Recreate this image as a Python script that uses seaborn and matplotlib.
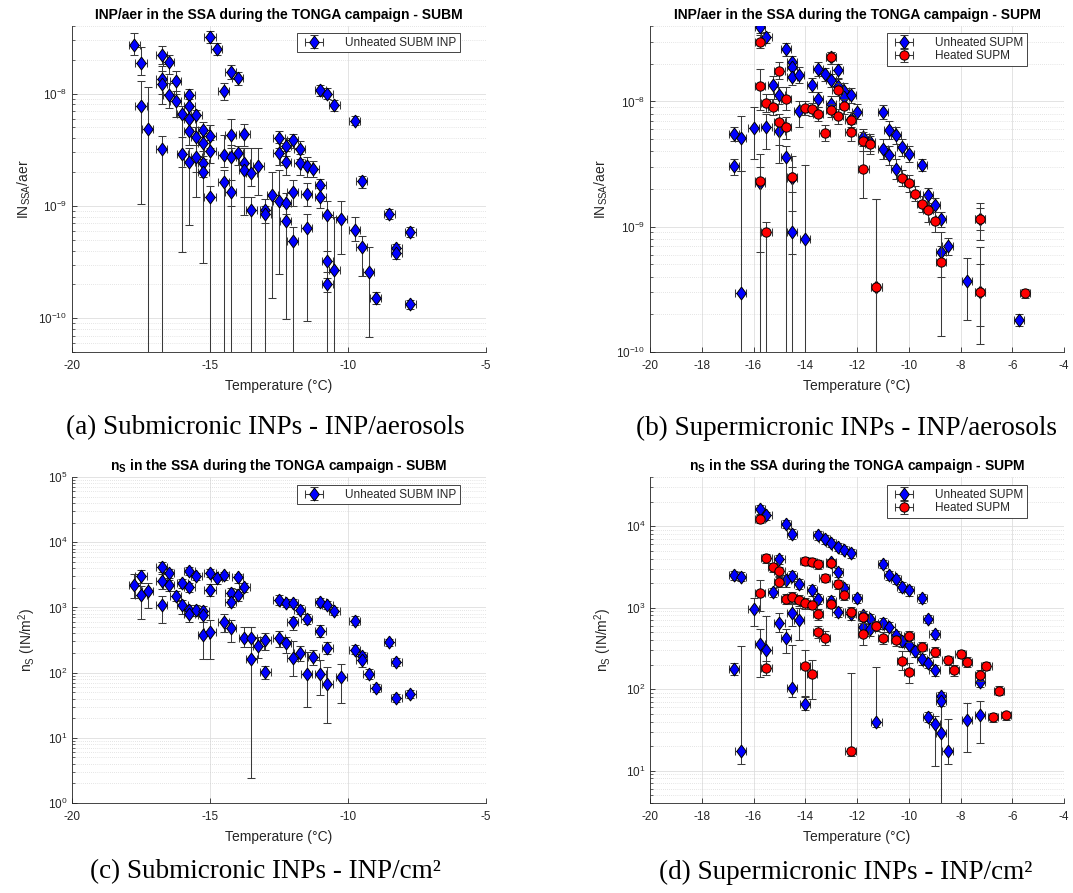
import numpy as np
import pandas as pd
import matplotlib
matplotlib.use("Agg")
import matplotlib.pyplot as plt
from matplotlib.lines import Line2D
from matplotlib.container import ErrorbarContainer
from matplotlib.legend_handler import HandlerTuple, HandlerErrorbar
from matplotlib.ticker import LogLocator, NullFormatter
import seaborn as sns

# ---------------------------------------------------------------- data
# (a) submicronic INP per aerosol, unheated
submAerT = [-17.75, -17.5, -17.5, -17.25, -16.75, -16.75, -16.75, -16.75, -16.5, -16.5,
            -16.25, -16.25, -16.0, -16.0, -15.75, -15.75, -15.75, -15.75, -15.75, -15.5,
            -15.5, -15.5, -15.25, -15.25, -15.25, -15.25, -15.0, -15.0, -15.0, -15.0,
            -14.75, -14.5, -14.5, -14.5, -14.25, -14.25, -14.25, -14.25, -14.0, -14.0,
            -13.75, -13.75, -13.75, -13.5, -13.5, -13.25, -13.0, -13.0, -12.75, -12.5,
            -12.5, -12.5, -12.25, -12.25, -12.25, -12.25, -12.0, -12.0, -12.0, -11.75,
            -11.75, -11.5, -11.5, -11.5, -11.25, -11.0, -11.0, -11.0, -10.75, -10.75,
            -10.75, -10.75, -10.5, -10.5, -10.25, -9.75, -9.75, -9.5, -9.5, -9.25,
            -9.0, -8.5, -8.25, -8.25, -7.75, -7.75]
submAerVal = [2.72e-8, 1.88e-8, 7.8e-9, 4.87e-9, 2.22e-8, 1.36e-8, 1.23e-8, 3.21e-9, 1.91e-8, 9.8e-9,
              1.29e-8, 8.6e-9, 6.65e-9, 2.9e-9, 9.8e-9, 7.7e-9, 6.0e-9, 4.6e-9, 2.46e-9, 6.5e-9,
              4.1e-9, 2.75e-9, 4.7e-9, 3.6e-9, 2.43e-9, 2.0e-9, 3.18e-8, 4.2e-9, 3.1e-9, 1.21e-9,
              2.5e-8, 1.05e-8, 2.84e-9, 1.63e-9, 1.56e-8, 4.3e-9, 2.75e-9, 1.32e-9, 1.38e-8, 2.94e-9,
              4.4e-9, 2.4e-9, 2.1e-9, 1.95e-9, 9.25e-10, 2.28e-9, 9.2e-10, 8.5e-10, 1.26e-9, 4.05e-9,
              2.94e-9, 1.1e-9, 3.43e-9, 2.45e-9, 1.06e-9, 7.3e-10, 3.85e-9, 1.33e-9, 4.9e-10, 3.2e-9,
              2.43e-9, 2.28e-9, 1.27e-9, 6.3e-10, 2.14e-9, 1.08e-8, 1.54e-9, 1.21e-9, 1.0e-8, 8.36e-10,
              3.2e-10, 2.0e-10, 7.9e-9, 2.7e-10, 7.6e-10, 5.7e-9, 6.07e-10, 1.65e-9, 4.3e-10, 2.6e-10,
              1.5e-10, 8.5e-10, 4.2e-10, 3.8e-10, 5.9e-10, 1.33e-10]
submAerLo = [2.2e-8, 1.45e-8, 1.05e-9, 0, 1.85e-8, 1.0e-8, 8.0e-9, 0, 1.5e-8, 7.5e-9,
             1.0e-8, 6.2e-9, 3.9e-10, 2.2e-9, 8.0e-9, 6.0e-9, 4.8e-9, 3.5e-9, 6.7e-10, 5.0e-9,
             1.2e-9, 2.0e-9, 3.8e-9, 2.8e-9, 1.8e-9, 3.1e-10, 2.8e-8, 3.3e-9, 2.4e-9, 0,
             2.2e-8, 8.8e-9, 2.2e-9, 0, 1.35e-8, 3.3e-9, 1.0e-9, 0, 1.2e-8, 2.3e-9,
             3.4e-9, 1.2e-9, 8.3e-10, 1.5e-9, 0, 1.25e-9, 0, 7.0e-10, 1.5e-10, 3.3e-9,
             2.3e-9, 2.45e-10, 2.8e-9, 1.9e-9, 8.5e-10, 9.8e-11, 3.3e-9, 1.0e-9, 0, 2.6e-9,
             1.9e-9, 1.8e-9, 1.0e-9, 9.4e-11, 1.8e-9, 9.5e-9, 1.2e-9, 9.5e-10, 9.0e-9, 0,
             2.6e-10, 1.7e-10, 7.0e-9, 0, 3.7e-10, 5.2e-9, 4.9e-10, 1.45e-9, 2.4e-10, 6.8e-11,
             1.35e-10, 7.7e-10, 3.8e-10, 3.4e-10, 5.3e-10, 1.2e-10]
submAerHi = [3.5e-8, 2.6e-8, 1.3e-8, 1.15e-8, 2.65e-8, 1.75e-8, 1.6e-8, 4.2e-9, 2.2e-8, 1.25e-8,
             1.6e-8, 1.05e-8, 7.8e-9, 4.1e-9, 1.1e-8, 9.0e-9, 7.5e-9, 5.8e-9, 3.3e-9, 7.2e-9,
             5.0e-9, 3.5e-9, 5.6e-9, 4.5e-9, 3.1e-9, 2.6e-9, 3.6e-8, 5.2e-9, 3.9e-9, 1.5e-9,
             2.85e-8, 1.25e-8, 4.3e-9, 2.1e-9, 1.8e-8, 6.0e-9, 3.5e-9, 1.7e-9, 1.55e-8, 3.4e-9,
             5.4e-9, 3.3e-9, 3.3e-9, 3.3e-9, 1.2e-9, 3.3e-9, 1.15e-9, 1.0e-9, 2.0e-9, 4.6e-9,
             3.6e-9, 2.1e-9, 4.0e-9, 3.1e-9, 1.3e-9, 1.0e-9, 4.4e-9, 1.7e-9, 6.5e-10, 3.8e-9,
             2.9e-9, 2.7e-9, 1.6e-9, 8.5e-10, 2.5e-9, 1.2e-8, 1.75e-9, 1.45e-9, 1.12e-8, 1.1e-9,
             4.0e-10, 2.3e-10, 8.8e-9, 8.0e-10, 1.1e-9, 6.3e-9, 7.9e-10, 1.85e-9, 5.4e-10, 4.3e-10,
             1.7e-10, 9.3e-10, 4.6e-10, 4.2e-10, 6.5e-10, 1.45e-10]

# (b) supermicronic INP per aerosol, unheated
supmAerUnhT = [-15.75, -15.5, -14.75, -14.5, -14.5, -14.5, -14.25, -15.25, -15.0, -14.25,
               -16.0, -16.75, -16.5, -16.75, -15.5, -15.0, -14.75, -15.75, -14.5, -14.5,
               -14.0, -16.5, -13.75, -13.5, -13.5, -13.25, -13.0, -13.0, -13.0, -12.75,
               -12.75, -12.5, -12.5, -12.25, -12.25, -12.0, -11.75, -11.5, -11.25, -11.0,
               -11.0, -10.75, -10.75, -10.5, -10.5, -10.25, -10.0, -9.5, -9.25, -9.0,
               -8.75, -8.75, -8.5, -7.75, -7.25, -7.25, -5.75]
supmAerUnhVal = [3.9e-8, 3.25e-8, 2.6e-8, 2.06e-8, 1.87e-8, 1.56e-8, 1.64e-8, 1.36e-8, 1.13e-8, 8.4e-9,
                 6.1e-9, 5.5e-9, 5.1e-9, 3.04e-9, 6.25e-9, 5.8e-9, 3.6e-9, 2.25e-9, 2.45e-9, 9.1e-10,
                 8.0e-10, 2.95e-10, 1.36e-8, 1.82e-8, 1.05e-8, 1.66e-8, 2.25e-8, 1.47e-8, 9.6e-9, 1.77e-8,
                 1.34e-8, 1.22e-8, 1.08e-8, 1.12e-8, 7.2e-9, 8.3e-9, 5.2e-9, 4.75e-9, 3.33e-10, 8.2e-9,
                 4.2e-9, 5.96e-9, 3.72e-9, 5.37e-9, 2.91e-9, 4.34e-9, 3.84e-9, 3.13e-9, 1.8e-9, 1.49e-9,
                 1.15e-9, 6.3e-10, 7.06e-10, 3.7e-10, 3.04e-10, 1.16e-9, 1.79e-10]
supmAerUnhLo = [3.5e-8, 2.9e-8, 2.3e-8, 1.8e-8, 1.6e-8, 1.35e-8, 1.4e-8, 1.15e-8, 9.5e-9, 6.2e-9,
                3.5e-9, 4.8e-9, 2.8e-9, 2.6e-9, 4.2e-9, 3.2e-9, 0, 6.3e-10, 6.1e-10, 0,
                0, 0, 1.2e-8, 1.6e-8, 9.0e-9, 1.45e-8, 2.0e-8, 1.3e-8, 8.5e-9, 1.55e-8,
                1.2e-8, 1.05e-8, 9.5e-9, 9.8e-9, 6.3e-9, 7.2e-9, 4.4e-9, 4.0e-9, 0, 7.2e-9,
                3.5e-9, 5.0e-9, 3.1e-9, 4.6e-9, 2.4e-9, 3.7e-9, 3.3e-9, 2.8e-9, 1.55e-9, 1.3e-9,
                1.0e-9, 4.0e-10, 6.0e-10, 1.8e-10, 1.6e-10, 9.5e-10, 1.6e-10]
supmAerUnhHi = [4.3e-8, 3.6e-8, 2.9e-8, 2.3e-8, 2.1e-8, 1.8e-8, 1.9e-8, 1.6e-8, 1.3e-8, 1.0e-8,
                9.0e-9, 6.2e-9, 7.6e-9, 3.5e-9, 8.0e-9, 7.0e-9, 4.4e-9, 3.8e-9, 3.0e-9, 1.33e-9,
                3.1e-9, 2.8e-9, 1.55e-8, 2.05e-8, 1.2e-8, 1.85e-8, 2.5e-8, 1.65e-8, 1.1e-8, 2.0e-8,
                1.5e-8, 1.4e-8, 1.2e-8, 1.28e-8, 8.2e-9, 9.5e-9, 6.0e-9, 5.5e-9, 1.65e-9, 9.3e-9,
                5.0e-9, 7.0e-9, 4.4e-9, 6.2e-9, 3.5e-9, 5.0e-9, 4.4e-9, 3.5e-9, 2.05e-9, 1.7e-9,
                1.3e-9, 9.0e-10, 8.2e-10, 5.6e-10, 5.0e-10, 1.4e-9, 2.0e-10]

# (b) supermicronic INP per aerosol, heated
supmAerHeatT = [-15.75, -15.0, -15.75, -15.5, -15.25, -14.75, -15.0, -14.75, -15.75, -14.5,
                -15.5, -14.0, -13.75, -13.5, -13.25, -13.0, -13.0, -12.75, -12.75, -12.5,
                -12.25, -12.25, -11.75, -11.75, -11.5, -11.25, -10.25, -10.0, -9.75, -9.5,
                -9.25, -9.0, -8.75, -7.25, -7.25, -5.5]
supmAerHeatVal = [3.0e-8, 1.75e-8, 1.33e-8, 9.7e-9, 9.0e-9, 1.05e-8, 6.8e-9, 6.2e-9, 2.3e-9, 2.5e-9,
                  9.1e-10, 8.9e-9, 8.7e-9, 8.0e-9, 5.6e-9, 2.25e-8, 8.5e-9, 1.24e-8, 7.6e-9, 9.2e-9,
                  7.1e-9, 5.7e-9, 4.83e-9, 2.91e-9, 4.55e-9, 3.33e-10, 2.45e-9, 2.24e-9, 1.84e-9, 1.53e-9,
                  1.36e-9, 1.11e-9, 5.2e-10, 1.16e-9, 3.04e-10, 2.95e-10]
supmAerHeatLo = [2.65e-8, 1.5e-8, 8.5e-9, 8.2e-9, 7.8e-9, 8.5e-9, 4.5e-9, 5.0e-9, 0, 1.9e-9,
                 0, 7.8e-9, 7.6e-9, 7.0e-9, 4.8e-9, 2.0e-8, 7.5e-9, 1.1e-8, 6.6e-9, 8.0e-9,
                 6.0e-9, 4.8e-9, 4.0e-9, 1.7e-9, 3.8e-9, 0, 2.1e-9, 1.9e-9, 1.6e-9, 1.3e-9,
                 1.1e-9, 9.0e-10, 1.33e-10, 7.9e-10, 1.16e-10, 2.7e-10]
supmAerHeatHi = [3.4e-8, 2.08e-8, 1.82e-8, 1.15e-8, 1.05e-8, 1.3e-8, 8.0e-9, 7.5e-9, 3.0e-9, 3.7e-9,
                 1.1e-9, 1.0e-8, 9.8e-9, 9.0e-9, 6.5e-9, 2.5e-8, 9.5e-9, 1.4e-8, 8.7e-9, 1.05e-8,
                 8.2e-9, 6.6e-9, 5.7e-9, 4.0e-9, 5.3e-9, 1.65e-9, 2.85e-9, 2.6e-9, 2.1e-9, 1.75e-9,
                 1.55e-9, 1.3e-9, 7.0e-10, 1.54e-9, 6.9e-10, 3.2e-10]

# (c) submicronic ice-active surface site density, unheated
submNsT = [-17.75, -17.5, -17.5, -17.25, -16.75, -16.75, -16.75, -16.5, -16.5, -16.25,
           -16.0, -16.0, -15.75, -15.75, -15.75, -15.75, -15.5, -15.5, -15.25, -15.25,
           -15.25, -15.0, -15.0, -15.0, -14.75, -14.5, -14.5, -14.25, -14.25, -14.25,
           -14.0, -14.0, -13.75, -13.75, -13.5, -13.5, -13.25, -13.0, -13.0, -12.5,
           -12.5, -12.25, -12.25, -12.0, -12.0, -12.0, -11.75, -11.75, -11.5, -11.5,
           -11.25, -11.0, -11.0, -11.0, -10.75, -10.75, -10.75, -10.5, -10.25, -9.75,
           -9.75, -9.5, -9.5, -9.25, -9.0, -8.5, -8.25, -8.25, -7.75]
submNsVal = [2245, 3010, 1540, 1775, 4200, 2520, 1105, 3390, 2190, 1520,
             2330, 1105, 3600, 2040, 927, 795, 3010, 927, 875, 777,
             383, 3390, 1880, 416, 2775, 3090, 593, 1670, 1215, 485,
             2910, 1540, 2040, 340, 340, 162, 253, 313, 101, 1320,
             340, 1175, 285, 1175, 593, 168, 927, 200, 667, 96,
             172, 1200, 441, 96, 1105, 239, 68, 875, 86, 628,
             225, 178, 158, 96, 58, 295, 146, 41, 47]
submNsLo = [1400, 2400, 670, 990, 3500, 1900, 578, 2800, 1800, 1250,
            2000, 800, 3100, 1700, 750, 600, 2600, 750, 700, 600,
            160, 2900, 1500, 160, 2300, 2600, 420, 1350, 1000, 290,
            2400, 1250, 1700, 250, 250, 2.4, 170, 220, 80, 1100,
            250, 1000, 200, 1000, 450, 88, 780, 150, 560, 30,
            130, 1000, 350, 46, 950, 190, 17, 760, 34, 530,
            190, 150, 120, 80, 50, 260, 125, 36, 41]
submNsHi = [3200, 3700, 2100, 2400, 5000, 3200, 1500, 3900, 2600, 1800,
            2700, 1300, 4200, 2400, 1100, 950, 3400, 1100, 1050, 900,
            600, 3900, 2300, 650, 3200, 3500, 800, 2000, 1500, 650,
            3300, 1900, 2400, 500, 500, 500, 350, 400, 125, 1550,
            430, 1350, 350, 1350, 700, 300, 1100, 260, 780, 205,
            220, 1400, 530, 158, 1250, 290, 120, 1000, 135, 730,
            265, 210, 190, 115, 67, 330, 165, 47, 54]

# (d) supermicronic ice-active surface site density, unheated
supmNsUnhT = [-15.75, -15.5, -14.75, -14.5, -15.0, -16.75, -16.5, -14.75, -14.5, -14.25,
              -15.25, -16.0, -14.5, -15.0, -14.25, -14.75, -15.75, -15.5, -16.75, -14.5,
              -14.0, -16.5, -13.5, -13.25, -13.0, -12.75, -12.5, -12.25, -13.0, -12.75,
              -12.5, -13.75, -13.5, -13.0, -12.75, -12.25, -12.0, -11.75, -11.75, -11.5,
              -11.5, -11.0, -10.75, -10.5, -10.25, -10.0, -9.5, -9.25, -9.0, -11.0,
              -10.75, -10.5, -10.25, -10.0, -9.75, -9.5, -9.25, -9.0, -8.75, -8.75,
              -9.25, -9.0, -8.75, -8.5, -7.75, -7.25, -7.25, -11.25]
supmNsUnhVal = [16000, 13500, 10700, 8060, 3900, 2500, 2390, 2150, 2450, 1960,
                1550, 950, 865, 652, 703, 419, 353, 301, 178, 102,
                66, 17.3, 7680, 6860, 6250, 5580, 5080, 4620, 3600, 2700,
                1720, 1640, 1260, 1210, 890, 825, 1300, 800, 582, 729,
                540, 3450, 2500, 2220, 1790, 1630, 1295, 729, 469, 640,
                582, 460, 388, 344, 293, 236, 210, 171, 82, 71,
                46, 37, 28.6, 17.3, 41.7, 47.5, 123, 39.4]
supmNsUnhLo = [14000, 12000, 9500, 7000, 3400, 2200, 2100, 1800, 2100, 1700,
               1350, 600, 600, 500, 400, 280, 140, 175, 150, 80,
               55, 12, 6800, 6100, 5500, 5000, 4500, 4100, 3200, 2350,
               1500, 1400, 1100, 1050, 770, 700, 1150, 680, 480, 620,
               450, 3050, 2200, 1950, 1550, 1400, 1130, 640, 410, 550,
               500, 400, 330, 290, 250, 200, 180, 145, 72, 62,
               40, 11.4, 0, 12, 16.9, 22, 105, 34]
supmNsUnhHi = [18000, 15000, 12000, 9200, 4400, 2800, 2700, 2500, 2800, 2250,
               1750, 1300, 1100, 850, 1000, 550, 550, 780, 210, 350,
               80, 340, 8600, 7700, 7000, 6200, 5700, 5200, 4000, 3050,
               1950, 1900, 1450, 1380, 1010, 950, 1450, 920, 690, 840,
               630, 3850, 2800, 2500, 2050, 1850, 1460, 820, 530, 740,
               670, 520, 450, 400, 340, 270, 240, 200, 92, 80,
               52, 47, 75, 43, 67, 72, 140, 188]

# (d) supermicronic ice-active surface site density, heated
supmNsHeatT = [-15.75, -15.5, -15.25, -15.0, -15.0, -15.75, -14.75, -14.5, -14.25, -14.0,
               -15.5, -14.0, -13.75, -14.0, -13.75, -13.5, -13.0, -13.25, -12.75, -12.5,
               -13.75, -13.5, -13.5, -13.25, -13.0, -12.25, -11.75, -11.75, -11.25, -11.0,
               -10.5, -10.0, -10.25, -10.0, -9.5, -9.0, -8.5, -8.25, -8.0, -7.75,
               -7.25, -7.0, -6.5, -6.75, -6.25, -12.25]
supmNsHeatVal = [12300, 4010, 3140, 2800, 2080, 1520, 1280, 1345, 1235, 1125,
                 183, 190, 151, 3720, 3650, 3390, 3550, 2320, 1920, 1420,
                 1080, 825, 505, 427, 1110, 890, 773, 478, 593, 427,
                 395, 446, 221, 162, 331, 287, 225, 171, 272, 216,
                 147, 192, 96, 45.3, 47.5, 17.5]
supmNsHeatLo = [11000, 3500, 2750, 2450, 1800, 900, 1100, 1150, 1050, 960,
                150, 82, 76, 3300, 3250, 3000, 3150, 2050, 1700, 1250,
                950, 700, 420, 350, 980, 770, 650, 346, 510, 360,
                340, 380, 170, 120, 290, 250, 195, 145, 240, 185,
                125, 170, 85, 40, 42, 15]
supmNsHeatHi = [13800, 4500, 3550, 3150, 2350, 2150, 1480, 1550, 1420, 1300,
                220, 300, 230, 4150, 4050, 3800, 3950, 2600, 2150, 1600,
                1220, 950, 600, 510, 1250, 1010, 900, 650, 680, 500,
                450, 510, 290, 210, 375, 325, 255, 200, 305, 250,
                170, 215, 108, 51, 53, 158]

tempErr = 0.2  # half-width of the temperature uncertainty (°C)

# ---------------------------------------------------------------- style
sns.set_style("ticks")
plt.rcParams["font.family"] = ["Liberation Sans", "DejaVu Sans"]
plt.rcParams["mathtext.fontset"] = "custom"
plt.rcParams["mathtext.rm"] = "Liberation Sans"
plt.rcParams["mathtext.it"] = "Liberation Sans:italic"
plt.rcParams["mathtext.bf"] = "Liberation Sans:bold"
plt.rcParams["mathtext.default"] = "regular"
plt.rcParams["axes.unicode_minus"] = False

AX_COLOR = "#262626"
BAR_COLOR = "#3a3a3a"
DIAMOND = [(0, 1), (0.74, 0), (0, -1), (-0.74, 0), (0, 1)]
DIAMOND_SIZE = 9.3
CIRCLE_SIZE = 6.7


def draw_series(ax, T, val, lo, hi, color, marker, msize, z):
    T = np.asarray(T, float)
    val = np.asarray(val, float)
    lo = np.asarray(lo, float)
    hi = np.asarray(hi, float)
    # a lower bound of zero is drawn down past the bottom of the log axis
    lo_eff = np.where(lo > 0, lo, val * 1e-6)
    eb = ax.errorbar(T, val, yerr=[val - lo_eff, hi - val], xerr=tempErr, fmt="none",
                     ecolor=BAR_COLOR, elinewidth=0.75, capsize=2.7, capthick=0.75,
                     zorder=z)
    df = pd.DataFrame({"T": T, "v": val})
    sns.scatterplot(data=df, x="T", y="v", marker=marker, s=msize ** 2, color=color,
                    edgecolor="black", linewidth=0.7, ax=ax, zorder=z + 0.5,
                    legend=False)
    proxy = Line2D([], [], ls="none", marker=marker, ms=msize, mfc=color,
                   mec="black", mew=0.7)
    return (eb, proxy)


def style_axes(ax, xlim, xticks, ylim, title, ylabel, ylabel_x):
    ax.set_yscale("log")
    ax.set_xlim(*xlim)
    ax.set_ylim(*ylim)
    ax.set_xticks(xticks)
    ax.set_xticklabels([f"{t:d}" for t in xticks])
    ax.yaxis.set_major_locator(LogLocator(base=10))
    ax.yaxis.set_minor_locator(LogLocator(base=10, subs=np.arange(2, 10)))
    ax.yaxis.set_minor_formatter(NullFormatter())
    ax.grid(which="major", color="#dedede", lw=0.6, ls="-")
    ax.grid(which="minor", axis="y", color="#cdcdcd", lw=0.5, ls=(0, (1, 2)))
    ax.set_axisbelow(True)
    for side in ("top", "right"):
        ax.spines[side].set_visible(False)
    for side in ("left", "bottom"):
        ax.spines[side].set_color(AX_COLOR)
        ax.spines[side].set_linewidth(0.6)
    ax.tick_params(which="major", direction="in", length=3.5, width=0.6,
                   color=AX_COLOR, labelcolor=AX_COLOR, labelsize=8.5)
    ax.tick_params(which="minor", direction="in", length=1.8, width=0.5,
                   color=AX_COLOR)
    ax.tick_params(axis="x", pad=6)
    ax.set_title(title, fontsize=10, fontweight="bold", pad=5, color="black")
    ax.set_xlabel("Temperature (°C)", fontsize=10, color=AX_COLOR, labelpad=5)
    ax.set_ylabel(ylabel, fontsize=10, color=AX_COLOR)
    ax.yaxis.set_label_coords(ylabel_x, 0.5)


def add_legend(ax, handles, labels, anchor):
    leg = ax.legend(handles, labels, loc="upper right", bbox_to_anchor=anchor,
                    borderaxespad=0, fancybox=False, framealpha=1,
                    edgecolor=AX_COLOR, fontsize=8.5, handlelength=2.3,
                    handletextpad=1.5, borderpad=0.3, labelspacing=0.15,
                    handler_map={tuple: HandlerTuple(ndivide=1),
                                 ErrorbarContainer: HandlerErrorbar(xerr_size=0.75,
                                                                    yerr_size=0.55)})
    leg.get_frame().set_linewidth(0.6)
    for t in leg.get_texts():
        t.set_color(AX_COLOR)


# ---------------------------------------------------------------- figure
fig = plt.figure(figsize=(10.73, 8.93), dpi=100)
W, H = 1073.0, 893.0
axw, axh = 414 / W, 326 / H
ax_a = fig.add_axes([72 / W, 1 - 352 / H, axw, axh])
ax_b = fig.add_axes([650 / W, 1 - 352 / H, axw, axh])
ax_c = fig.add_axes([72 / W, 1 - 803 / H, axw, axh])
ax_d = fig.add_axes([650 / W, 1 - 803 / H, axw, axh])

ticks_sub = [-20, -15, -10, -5]
ticks_sup = list(range(-20, -3, 2))
aer_label = r"$\mathrm{IN_{SSA}/aer}$"
ns_label = r"$\mathrm{n_S\ (IN/m^2)}$"

# (a)
style_axes(ax_a, (-20, -5), ticks_sub, (5e-11, 4e-8),
           "INP/aer in the SSA during the TONGA campaign - SUBM", aer_label, -0.094)
h = draw_series(ax_a, submAerT, submAerVal, submAerLo, submAerHi, "#0000ff", DIAMOND,
                DIAMOND_SIZE, 2)
add_legend(ax_a, [h], ["Unheated SUBM INP"], (0.937, 0.978))

# (b)
style_axes(ax_b, (-20, -4), ticks_sup, (1e-10, 4e-8),
           "INP/aer in the SSA during the TONGA campaign - SUPM", aer_label, -0.097)
hb1 = draw_series(ax_b, supmAerUnhT, supmAerUnhVal, supmAerUnhLo, supmAerUnhHi, "#0000ff",
                  DIAMOND, DIAMOND_SIZE, 2)
hb2 = draw_series(ax_b, supmAerHeatT, supmAerHeatVal, supmAerHeatLo, supmAerHeatHi, "#ff0000",
                  "o", CIRCLE_SIZE, 4)
add_legend(ax_b, [hb1, hb2], ["Unheated SUPM", "Heated SUPM"], (0.911, 0.978))

# (c)
style_axes(ax_c, (-20, -5), ticks_sub, (1, 1e5),
           r"$\mathbf{n_S}$ in the SSA during the TONGA campaign - SUBM", ns_label, -0.083)
hc = draw_series(ax_c, submNsT, submNsVal, submNsLo, submNsHi, "#0000ff", DIAMOND,
                 DIAMOND_SIZE, 2)
add_legend(ax_c, [hc], ["Unheated SUBM INP"], (0.937, 0.975))

# (d)
style_axes(ax_d, (-20, -4), ticks_sup, (4, 4e4),
           r"$\mathbf{n_S}$ in the SSA during the TONGA campaign - SUPM", ns_label, -0.088)
hd1 = draw_series(ax_d, supmNsUnhT, supmNsUnhVal, supmNsUnhLo, supmNsUnhHi, "#0000ff",
                  DIAMOND, DIAMOND_SIZE, 2)
hd2 = draw_series(ax_d, supmNsHeatT, supmNsHeatVal, supmNsHeatLo, supmNsHeatHi, "#ff0000",
                  "o", CIRCLE_SIZE, 4)
add_legend(ax_d, [hd1, hd2], ["Unheated SUPM", "Heated SUPM"], (0.911, 0.975))

# sub-figure captions
cap_kw = dict(family=["Liberation Serif", "DejaVu Serif"], fontsize=19.5, ha="center",
              va="center", color="black")
fig.text(265 / W, 1 - 428 / H, "(a) Submicronic INPs - INP/aerosols", **cap_kw)
fig.text(846 / W, 1 - 428 / H, "(b) Supermicronic INPs - INP/aerosols", **cap_kw)
fig.text(265 / W, 1 - 872 / H, "(c) Submicronic INPs - INP/cm²", **cap_kw)
fig.text(846 / W, 1 - 872 / H, "(d) Supermicronic INPs - INP/cm²", **cap_kw)

fig.savefig("out.png", dpi=100, facecolor="white")
